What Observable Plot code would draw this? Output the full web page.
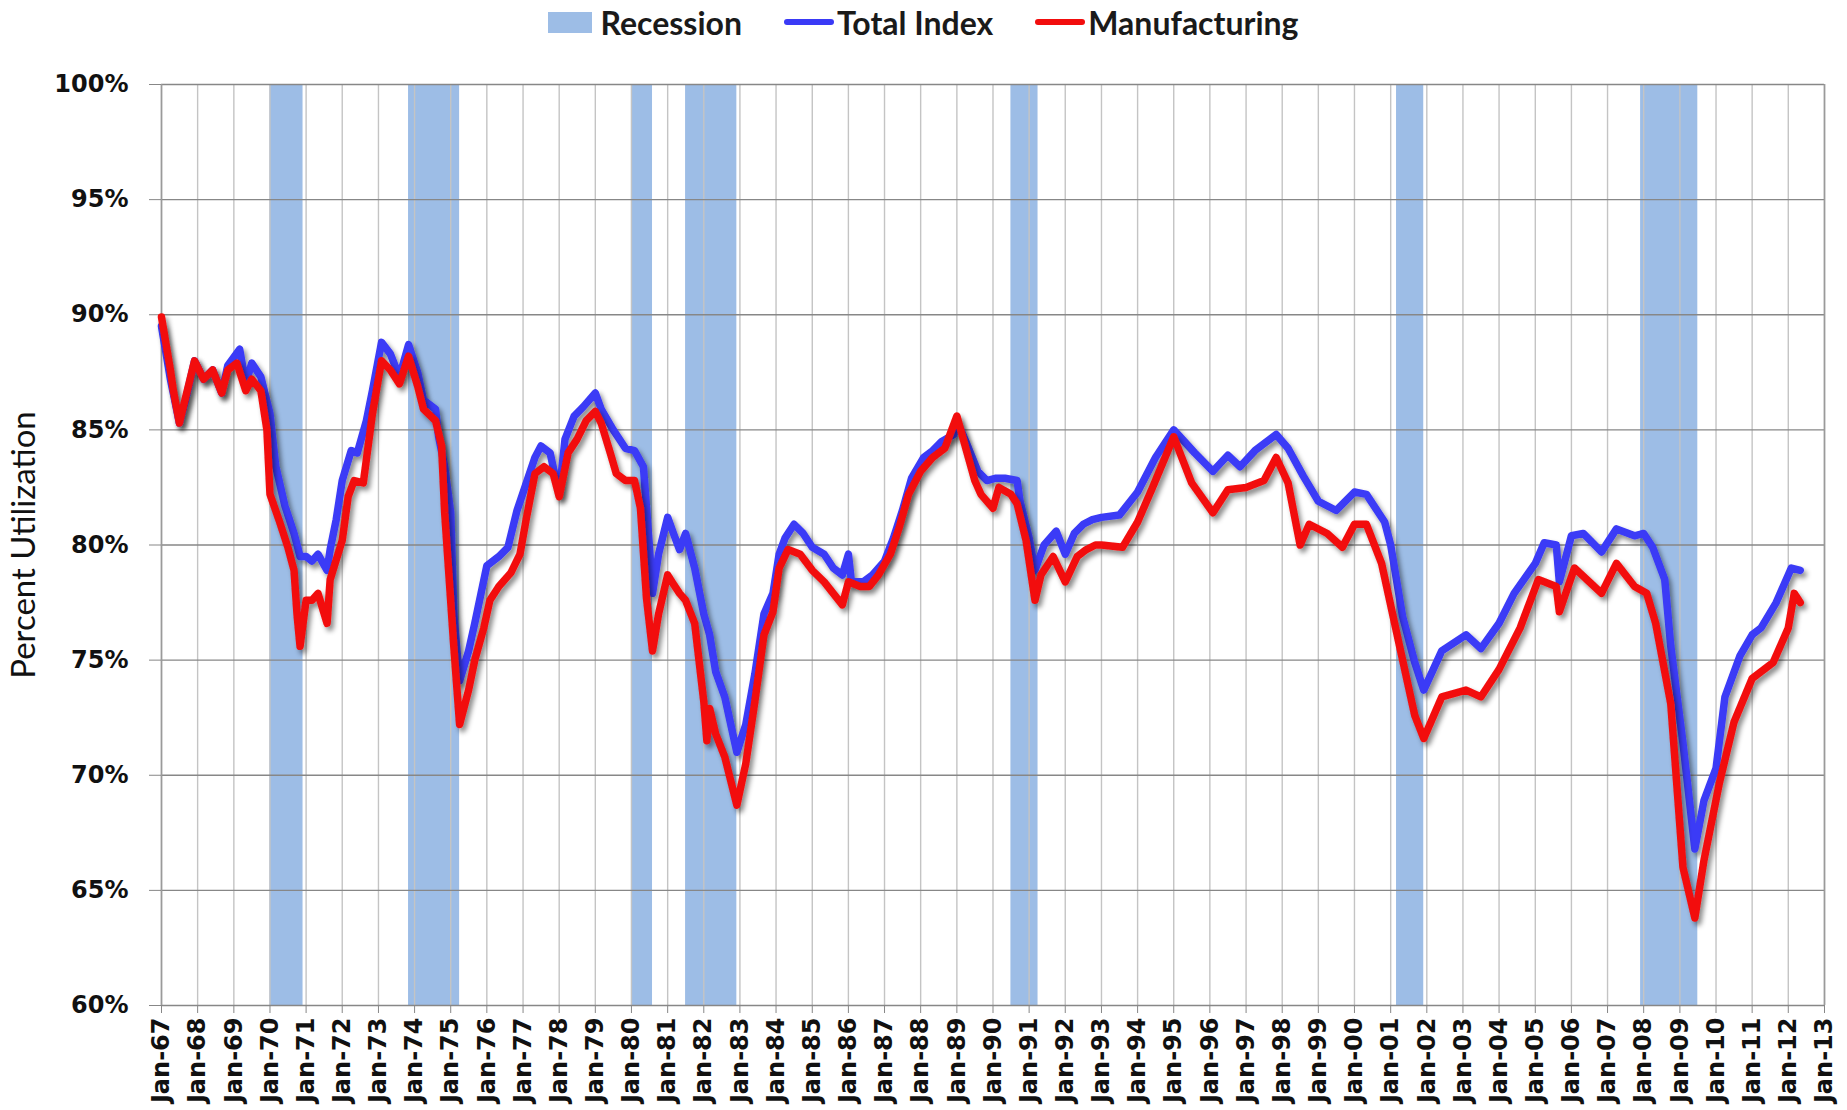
<!DOCTYPE html>
<html><head><meta charset="utf-8">
<script src="https://cdn.jsdelivr.net/npm/d3@7"></script>
<script src="https://cdn.jsdelivr.net/npm/@observablehq/plot@0.6"></script>
<style>
body{margin:0;background:#fff;}
#legend{height:44px;display:flex;justify-content:center;align-items:center;font-family:Lato,"Open Sans",sans-serif;font-weight:bold;font-size:32px;color:#1a1a1a;}
#legend .item{display:flex;align-items:center;margin:0 21px;}
#legend .sw{display:inline-block;width:44px;height:21px;margin-right:8px;}
#legend .ln{display:inline-block;width:50px;height:6px;border-radius:3px;margin-right:3px;}
#chart svg g[aria-label="y-axis label"] text{font-family:Lato,"Open Sans",sans-serif;font-weight:normal;font-size:33px;}
</style></head><body>
<div id="legend"></div>
<div id="chart"></div>
<script>
// ---- data ----
const seriesNames = ["Recession", "Total Index", "Manufacturing"];
const recessionStart = ["1970-01","1973-11","1980-01","1981-07","1990-07","2001-03","2007-12"];
const recessionEnd   = ["1970-12","1975-04","1980-08","1982-12","1991-04","2001-12","2009-07"];
const totalIndex = [
["1967-01",89.5],["1967-04",87.2],["1967-07",85.3],["1967-09",86.3],["1967-12",88.0],
["1968-03",87.2],["1968-06",87.6],["1968-09",86.6],["1968-11",87.8],["1969-03",88.5],
["1969-05",87.0],["1969-07",87.9],["1969-10",87.3],["1970-01",85.7],["1970-03",83.4],
["1970-06",81.7],["1970-09",80.5],["1970-11",79.5],["1971-01",79.5],["1971-03",79.3],
["1971-05",79.6],["1971-08",78.9],["1971-09",79.8],["1971-11",81.1],["1972-01",82.8],
["1972-04",84.1],["1972-06",84.0],["1972-09",85.4],["1972-11",86.7],["1973-02",88.8],
["1973-05",88.3],["1973-08",87.3],["1973-11",88.7],["1974-02",87.5],["1974-04",86.3],
["1974-08",85.9],["1974-09",84.7],["1974-11",83.4],["1975-01",81.4],["1975-02",77.0],
["1975-04",74.1],["1975-07",75.4],["1975-09",76.6],["1976-01",79.1],["1976-05",79.5],
["1976-08",79.9],["1976-11",81.5],["1977-05",83.8],["1977-07",84.3],["1977-10",84.0],
["1978-01",82.2],["1978-03",84.6],["1978-06",85.6],["1978-09",86.0],["1979-01",86.6],
["1979-03",85.9],["1979-07",85.0],["1979-11",84.2],["1980-02",84.1],["1980-05",83.4],
["1980-07",79.9],["1980-08",77.9],["1980-10",79.6],["1981-01",81.2],["1981-03",80.5],
["1981-05",79.8],["1981-07",80.5],["1981-10",79.0],["1982-01",77.0],["1982-03",76.1],
["1982-05",74.5],["1982-08",73.4],["1982-12",71.0],["1983-03",72.2],["1983-06",74.4],
["1983-09",77.0],["1983-12",77.9],["1984-02",79.6],["1984-04",80.3],["1984-07",80.9],
["1984-10",80.5],["1985-01",79.9],["1985-05",79.6],["1985-08",79.0],["1985-11",78.7],
["1986-01",79.6],["1986-02",78.4],["1986-06",78.4],["1986-09",78.7],["1987-01",79.3],
["1987-04",80.3],["1987-07",81.5],["1987-10",82.9],["1988-02",83.8],["1988-05",84.1],
["1988-08",84.5],["1988-12",84.8],["1989-01",85.4],["1989-04",84.5],["1989-08",83.2],
["1989-11",82.8],["1990-02",82.9],["1990-05",82.9],["1990-09",82.8],["1990-10",81.9],
["1991-01",80.3],["1991-03",78.9],["1991-06",80.0],["1991-10",80.6],["1992-01",79.6],
["1992-04",80.5],["1992-07",80.9],["1992-10",81.1],["1993-01",81.2],["1993-07",81.3],
["1994-01",82.3],["1994-07",83.8],["1995-01",85.0],["1995-08",84.0],["1996-02",83.2],
["1996-07",83.9],["1996-11",83.4],["1997-04",84.1],["1997-11",84.8],["1998-03",84.2],
["1998-08",83.0],["1999-01",81.9],["1999-07",81.5],["2000-01",82.3],["2000-05",82.2],
["2000-11",81.0],["2001-01",80.0],["2001-05",76.9],["2001-09",74.9],["2001-12",73.7],
["2002-06",75.4],["2003-02",76.1],["2003-07",75.5],["2004-01",76.6],["2004-06",77.9],
["2005-01",79.2],["2005-04",80.1],["2005-08",80.0],["2005-09",78.4],["2006-01",80.4],
["2006-05",80.5],["2006-11",79.7],["2007-04",80.7],["2007-10",80.4],["2008-01",80.5],
["2008-04",79.9],["2008-08",78.5],["2008-10",75.6],["2009-02",71.4],["2009-06",66.8],
["2009-09",68.9],["2010-01",70.3],["2010-04",73.4],["2010-09",75.2],["2011-01",76.1],
["2011-04",76.4],["2011-09",77.5],["2012-02",79.0],["2012-05",78.9]
];
const manufacturing = [
["1967-01",89.9],["1967-04",87.6],["1967-05",86.7],["1967-07",85.3],["1967-09",86.4],
["1967-12",88.0],["1968-03",87.2],["1968-06",87.6],["1968-09",86.6],["1968-11",87.6],
["1969-02",87.9],["1969-05",86.7],["1969-07",87.2],["1969-10",86.7],["1969-12",85.0],
["1970-01",82.2],["1970-04",81.1],["1970-07",79.9],["1970-09",78.9],["1970-10",77.0],
["1970-11",75.6],["1971-01",77.6],["1971-03",77.6],["1971-05",77.9],["1971-08",76.6],
["1971-09",78.5],["1972-01",80.2],["1972-03",82.1],["1972-05",82.8],["1972-08",82.7],
["1972-11",85.7],["1973-02",88.0],["1973-05",87.6],["1973-08",87.0],["1973-11",88.2],
["1974-02",86.9],["1974-04",85.9],["1974-08",85.4],["1974-10",84.3],["1974-11",81.4],
["1975-02",75.6],["1975-04",72.2],["1975-07",73.7],["1975-09",75.0],["1975-12",76.4],
["1976-02",77.6],["1976-05",78.2],["1976-09",78.8],["1976-12",79.6],["1977-02",81.1],
["1977-05",83.1],["1977-08",83.4],["1977-11",83.1],["1978-01",82.1],["1978-04",84.0],
["1978-07",84.6],["1978-10",85.4],["1979-01",85.8],["1979-03",85.3],["1979-06",84.0],
["1979-08",83.1],["1979-11",82.8],["1980-02",82.8],["1980-04",81.6],["1980-06",77.7],
["1980-08",75.4],["1980-10",77.0],["1981-01",78.7],["1981-03",78.3],["1981-05",77.9],
["1981-07",77.6],["1981-10",76.6],["1982-01",73.2],["1982-02",71.5],["1982-03",72.9],
["1982-05",71.8],["1982-08",70.8],["1982-12",68.7],["1983-03",70.5],["1983-06",73.2],
["1983-09",76.1],["1983-12",77.1],["1984-02",79.0],["1984-05",79.8],["1984-09",79.6],
["1985-01",78.9],["1985-05",78.4],["1985-08",77.9],["1985-11",77.4],["1986-01",78.4],
["1986-05",78.2],["1986-08",78.2],["1986-11",78.7],["1987-03",79.6],["1987-06",80.8],
["1987-09",82.2],["1988-01",83.2],["1988-05",83.8],["1988-09",84.2],["1989-01",85.6],
["1989-04",84.2],["1989-07",82.8],["1989-09",82.2],["1990-01",81.6],["1990-03",82.5],
["1990-07",82.2],["1990-09",81.8],["1990-12",80.2],["1991-03",77.6],["1991-05",78.7],
["1991-09",79.5],["1992-01",78.4],["1992-05",79.5],["1992-08",79.8],["1992-11",80.0],
["1993-01",80.0],["1993-08",79.9],["1994-01",81.0],["1994-06",82.5],["1995-01",84.7],
["1995-07",82.7],["1996-02",81.4],["1996-07",82.4],["1997-01",82.5],["1997-07",82.8],
["1997-11",83.8],["1998-03",82.7],["1998-07",80.0],["1998-10",80.9],["1999-04",80.5],
["1999-09",79.9],["2000-01",80.9],["2000-05",80.9],["2000-10",79.2],["2001-04",75.6],
["2001-09",72.6],["2001-12",71.6],["2002-06",73.4],["2003-02",73.7],["2003-07",73.4],
["2004-01",74.6],["2004-08",76.4],["2005-02",78.5],["2005-08",78.2],["2005-09",77.1],
["2006-02",79.0],["2006-11",77.9],["2007-04",79.2],["2007-10",78.2],["2008-02",77.9],
["2008-05",76.6],["2008-10",73.1],["2009-02",66.0],["2009-06",63.8],["2009-09",66.3],
["2010-02",69.6],["2010-07",72.3],["2011-01",74.2],["2011-08",74.9],["2012-01",76.4],
["2012-03",77.9],["2012-05",77.5]
];
const yTicks = [60, 65, 70, 75, 80, 85, 90, 95, 100];
const xTickYears = ["1967","1968","1969","1970","1971","1972","1973","1974","1975","1976","1977","1978","1979","1980","1981","1982","1983","1984","1985","1986","1987","1988","1989","1990","1991","1992","1993","1994","1995","1996","1997","1998","1999","2000","2001","2002","2003","2004","2005","2006","2007","2008","2009","2010","2011","2012","2013"];

// ---- styles ----
const C_REC = "#9dbde6", C_TOT = "#3a3af6", C_MFG = "#f20d0d";

const pm = d3.utcParse("%Y-%m"), py = d3.utcParse("%Y");
const toRows = arr => arr.map(([d, v]) => ({date: pm(d), value: v}));
const tot = toRows(totalIndex), mfg = toRows(manufacturing);
const rec = recessionStart.map((s, i) => ({start: pm(s), end: pm(recessionEnd[i])}));
const xTicks = xTickYears.map(py);

// legend
const leg = document.getElementById("legend");
const legColors = [C_REC, C_TOT, C_MFG];
seriesNames.forEach((n, i) => {
  const it = document.createElement("div"); it.className = "item";
  const s = document.createElement("span");
  s.className = i === 0 ? "sw" : "ln"; s.style.background = legColors[i];
  const t = document.createElement("span"); t.textContent = n;
  it.append(s, t); leg.append(it);
});

const plot = Plot.plot({
  width: 1847, height: 1066,
  marginTop: 40, marginLeft: 161, marginRight: 23, marginBottom: 105,
  style: {fontFamily: "'DejaVu Sans', Verdana, sans-serif", fontWeight: "bold", fontSize: "24px", color: "#111", background: "#fff"},
  x: {type: "utc", domain: [py("1967"), py("2013")]},
  y: {domain: [60, 100]},
  marks: [
    Plot.rect(rec, {x1: "start", x2: "end", y1: 60, y2: 100, fill: C_REC}),
    Plot.ruleX(xTicks, {stroke: "#c4c4c4", strokeWidth: 1.4}),
    Plot.ruleY(yTicks, {stroke: "#878787", strokeWidth: 1.4}),
    Plot.ruleX([xTicks[0], xTicks[xTicks.length - 1]], {stroke: "#9a9a9a", strokeWidth: 1.6}),
    Plot.axisY({ticks: yTicks, tickFormat: d => d + "%", tickSize: 12, tickPadding: 21, stroke: "#878787",
      label: "Percent Utilization", labelAnchor: "center", labelArrow: "none", labelOffset: 150}),
    Plot.axisX({ticks: xTicks, tickFormat: d3.utcFormat("%b-%y"), tickRotate: -90, tickSize: 8, tickPadding: 4, stroke: "#878787", label: null}),
    Plot.line(tot, {x: "date", y: "value", stroke: C_TOT, strokeWidth: 7.5, strokeLinejoin: "round"}),
    Plot.line(mfg, {x: "date", y: "value", stroke: C_MFG, strokeWidth: 7.5, strokeLinejoin: "round"})
  ]
});
document.getElementById("chart").append(plot);

// soft drop shadow like the original chart
const ns = "http://www.w3.org/2000/svg";
const defs = document.createElementNS(ns, "defs");
defs.innerHTML = '<filter id="sh" x="-5%" y="-5%" width="110%" height="110%"><feDropShadow dx="3" dy="4" stdDeviation="2.5" flood-color="#000" flood-opacity="0.45"/></filter>';
plot.prepend(defs);
plot.querySelectorAll('g[aria-label="line"]').forEach(g => g.setAttribute("filter", "url(#sh)"));
</script>
</body></html>
